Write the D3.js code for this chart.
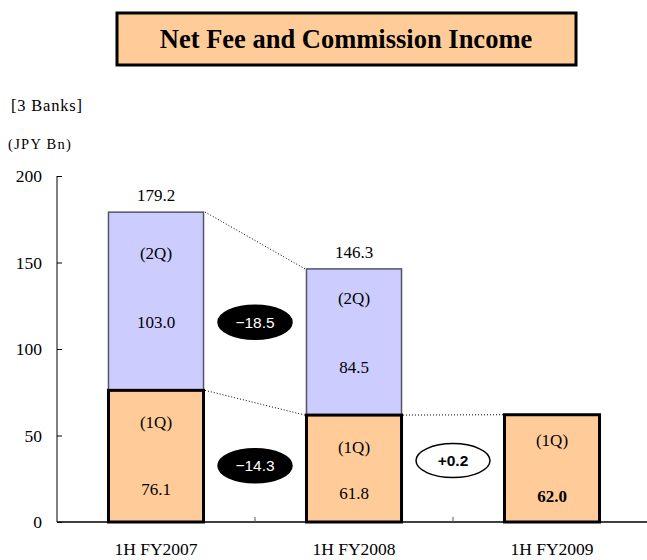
<!DOCTYPE html>
<html>
<head>
<meta charset="utf-8">
<script src="https://cdn.jsdelivr.net/npm/d3@7"></script>
<style>
  body { margin: 0; background: #fff; }
  svg { display: block; }
</style>
</head>
<body>
<svg id="chart" width="647" height="560" font-family="'Liberation Serif', 'Times New Roman', Times, serif"></svg>
<script>
// chart data
const categories = ["1H FY2007", "1H FY2008", "1H FY2009"]
const q1Values = [76.1, 61.8, 62.0]
const q2Values = [103.0, 84.5, null]
const totals = [179.2, 146.3, null]
const yTicks = [0, 50, 100, 150, 200]
const changeLabels = ["\u221218.5", "\u221214.3", "+0.2"]

const svg = d3.select("#chart")
const FS = 17

// scales
const x = d3.scaleBand()
  .domain(categories)
  .range([57, 651])
  .paddingInner(0.52)
  .paddingOuter(0.26)

const y = d3.scaleLinear().domain([0, 200]).range([522, 176])

// title box
svg.append("rect")
  .attr("x", 117).attr("y", 13)
  .attr("width", 459).attr("height", 52)
  .attr("fill", "#FFCC99")
  .attr("stroke", "#000")
  .attr("stroke-width", 3)
svg.append("text")
  .attr("x", 346).attr("y", 48)
  .attr("text-anchor", "middle")
  .attr("font-size", 26.5)
  .attr("font-weight", "bold")
  .text("Net Fee and Commission Income")

svg.append("text").attr("x", 11).attr("y", 111).attr("font-size", 16.5).attr("letter-spacing", 0.8).text("[3 Banks]")
svg.append("text").attr("x", 8).attr("y", 149).attr("font-size", 14.5).attr("letter-spacing", 1.3).text("(JPY Bn)")

// y axis, ticks pointing inwards
const yAxis = svg.append("g")
  .attr("transform", "translate(57,0)")
  .call(d3.axisRight(y).tickValues(yTicks).tickSize(5).tickFormat(""))
yAxis.select(".domain").attr("d", `M0,${y(200)}V${y(0)}`)
yAxis.selectAll("line").attr("stroke", "#000")
svg.selectAll(".ylab")
  .data(yTicks)
  .enter()
  .append("text")
  .attr("x", 42)
  .attr("y", (d) => y(d))
  .attr("dy", "0.35em")
  .attr("text-anchor", "end")
  .attr("font-size", 17.5)
  .text((d) => d)

// bars
const dataRows = categories.map((c, i) => ({ cat: c, q1: q1Values[i], q2: q2Values[i], total: totals[i] }))

svg.selectAll(".q2")
  .data(dataRows.filter((d) => d.q2 != null))
  .enter()
  .append("rect")
  .attr("x", (d) => x(d.cat))
  .attr("width", x.bandwidth())
  .attr("y", (d) => y(d.q1 + d.q2))
  .attr("height", (d) => y(d.q1) - y(d.q1 + d.q2))
  .attr("fill", "#CCCCFF")
  .attr("stroke", "#555566")
  .attr("stroke-width", 1.5)

svg.selectAll(".q1")
  .data(dataRows)
  .enter()
  .append("rect")
  .attr("x", (d) => x(d.cat))
  .attr("width", x.bandwidth())
  .attr("y", (d) => y(d.q1))
  .attr("height", (d) => y(0) - y(d.q1))
  .attr("fill", "#FFCC99")
  .attr("stroke", "#000")
  .attr("stroke-width", 3)

// x axis
const xAxis = svg.append("g")
  .attr("transform", `translate(0,${y(0)})`)
xAxis.append("line")
  .attr("x1", 57).attr("x2", 651)
  .attr("stroke", "#000").attr("stroke-width", 1.5)
const gapX = (i) => x(categories[i]) + x.bandwidth() + (x.step() - x.bandwidth()) / 2
xAxis.selectAll(".xtick")
  .data([0, 1])
  .enter()
  .append("line")
  .attr("x1", gapX).attr("x2", gapX)
  .attr("y1", 0).attr("y2", -5)
  .attr("stroke", "#555")
svg.selectAll(".xlab")
  .data(categories)
  .enter()
  .append("text")
  .attr("x", (d) => x(d) + x.bandwidth() / 2)
  .attr("y", 555)
  .attr("text-anchor", "middle")
  .attr("font-size", 17.5)
  .text((d) => d)

// connector lines between bars
const dotted = (x1, y1, x2, y2) =>
  svg.append("line")
    .attr("x1", x1).attr("y1", y1).attr("x2", x2).attr("y2", y2)
    .attr("stroke", "#000").attr("stroke-width", 1)
    .attr("stroke-dasharray", "1,2")
const right = (i) => x(categories[i]) + x.bandwidth() + 1.5
const left = (i) => x(categories[i]) - 1.5
dotted(right(0), y(totals[0]), left(1), y(totals[1]))
dotted(right(0), y(q1Values[0]), left(1), y(q1Values[1]))
dotted(right(1), y(q1Values[1]), left(2), y(q1Values[2]))

// labels inside / above bars
const cx = (d) => x(d.cat) + x.bandwidth() / 2
svg.selectAll(".tot")
  .data(dataRows.filter((d) => d.total != null))
  .enter()
  .append("text")
  .attr("x", cx)
  .attr("y", (d) => y(d.total) - 17)
  .attr("dy", "0.35em")
  .attr("text-anchor", "middle")
  .attr("font-size", FS)
  .text((d) => d.total.toFixed(1))

// vertical offsets of labels within each segment [quarter label from top, value from bottom]
const q2Offsets = [[41, 68], [29, 48]]
const q1Offsets = [[32, 33], [32, 29], [25, 26]]

dataRows.forEach((d, i) => {
  if (d.q2 != null) {
    const top = y(d.q1 + d.q2), bot = y(d.q1)
    svg.append("text").attr("x", cx(d)).attr("y", top + q2Offsets[i][0])
      .attr("dy", "0.35em").attr("text-anchor", "middle").attr("font-size", FS).text("(2Q)")
    svg.append("text").attr("x", cx(d)).attr("y", bot - q2Offsets[i][1])
      .attr("dy", "0.35em").attr("text-anchor", "middle").attr("font-size", FS).text(d.q2.toFixed(1))
  }
  const top = y(d.q1), bot = y(0)
  const last = i === dataRows.length - 1
  svg.append("text").attr("x", cx(d)).attr("y", top + q1Offsets[i][0])
    .attr("dy", "0.35em").attr("text-anchor", "middle").attr("font-size", FS).text("(1Q)")
  svg.append("text").attr("x", cx(d)).attr("y", bot - q1Offsets[i][1])
    .attr("dy", "0.35em").attr("text-anchor", "middle").attr("font-size", FS)
    .attr("font-weight", last ? "bold" : "normal")
    .text(d.q1.toFixed(1))
})

// change bubbles
const bubbles = [
  { label: changeLabels[0], x: gapX(0), y: y(115.5), dark: true },
  { label: changeLabels[1], x: gapX(0), y: y(32.5), dark: true },
  { label: changeLabels[2], x: gapX(1), y: y(35.5), dark: false },
]
bubbles.forEach((b) => {
  svg.append("ellipse")
    .attr("cx", b.x).attr("cy", b.y)
    .attr("rx", 37).attr("ry", 17)
    .attr("fill", b.dark ? "#000" : "#fff")
    .attr("stroke", "#000").attr("stroke-width", 1.5)
  svg.append("text")
    .attr("x", b.x).attr("y", b.y)
    .attr("dy", "0.36em")
    .attr("text-anchor", "middle")
    .attr("font-family", "'Liberation Sans', Arial, sans-serif")
    .attr("font-size", 15.5)
    .attr("font-weight", b.dark ? "normal" : "bold")
    .attr("fill", b.dark ? "#fff" : "#000")
    .text(b.label)
})
</script>
</body>
</html>
